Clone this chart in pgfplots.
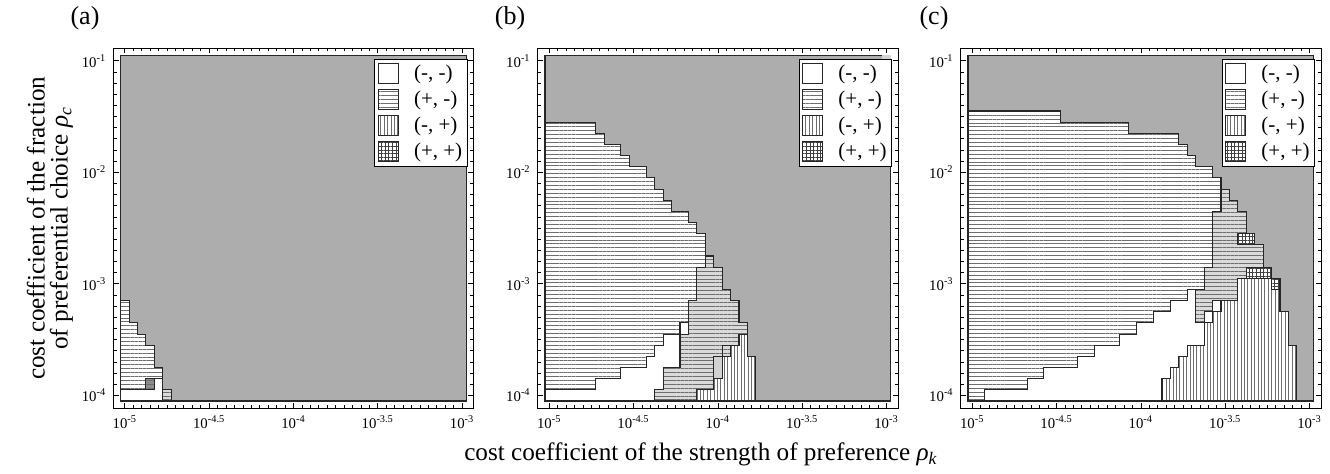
\documentclass[border=0pt]{standalone}
\usepackage{fontspec}
\setmainfont{Liberation Serif}
\usepackage{pgfplots}
\pgfplotsset{compat=1.18}
\usetikzlibrary{patterns.meta}
\definecolor{bggray}{RGB}{173,173,173}
\definecolor{lightbg}{RGB}{218,218,218}
\definecolor{plaincell}{RGB}{210,210,210}
\definecolor{darkcell}{RGB}{140,140,140}
\definecolor{hatch}{RGB}{110,110,110}

\tikzset{
  hpat/.style={postaction={pattern={Lines[angle=0,distance=1.95pt,line width=0.4pt]},pattern color=hatch}},
  vpat/.style={postaction={pattern={Lines[angle=90,distance=1.7pt,line width=0.4pt]},pattern color=hatch}},
  gpat/.style={postaction={pattern={Lines[angle=0,distance=1.8pt,line width=0.35pt]},pattern color=black!75},
               postaction={pattern={Lines[angle=90,distance=1.8pt,line width=0.35pt]},pattern color=black!75}},
  reg/.style={draw=black!85,line width=0.55pt},
  bgR/.style={reg,fill=bggray},
  wR/.style={reg,fill=white},
  hR/.style={reg,fill=white,hpat},
  vR/.style={reg,fill=white,vpat},
  gR/.style={reg,fill=white,gpat},
  lhR/.style={reg,fill=lightbg,hpat},
  dhR/.style={reg,fill=darkcell,hpat},
  pR/.style={reg,fill=plaincell},
}

\pgfplotsset{
  panel/.style={
    scale only axis, width=180.2pt, height=180pt, anchor=south west,
    xmin=-0.87, xmax=41.87, ymin=-0.65, ymax=31.62,
    axis line style={line width=0.5pt},
    tick align=inside, tick pos=both,
    xtick={0.5,10.5,20.5,30.5,40.5},
    xticklabels={10\textsuperscript{-5},10\textsuperscript{-4.5},10\textsuperscript{-4},10\textsuperscript{-3.5},10\textsuperscript{-3}},
    ytick={0.5,10.5,20.5,30.5},
    yticklabels={10\textsuperscript{-4},10\textsuperscript{-3},10\textsuperscript{-2},10\textsuperscript{-1}},
    minor xtick={0.5,1.5,...,40.5},
    minor ytick={0.5,1.5,...,30.5},
    major tick length=2.6pt, minor tick length=1.6pt,
    every tick/.style={black,line width=0.4pt},
    ticklabel style={font=\fontsize{7.4}{8}\selectfont},
    legend image code/.code={\draw[##1] (0pt,-5pt) rectangle (10pt,5pt);},
    legend cell align=left,
    legend style={at={(axis cs:30.1,30.7)}, anchor=north west, draw=black,
      line width=0.5pt, font=\fontsize{10.5}{12}\selectfont,
      inner xsep=1.5pt, inner ysep=2pt, row sep=2.2pt, column sep=6.5pt,
      nodes={inner sep=1pt}},
  },
}

\begin{document}
\begin{tikzpicture}
\useasboundingbox (0,0) rectangle (665pt,237pt);

% ---------------- (a)
\begin{axis}[panel, at={(56.65pt,32.85pt)}]
\addlegendimage{reg,fill=white}
\addlegendimage{hR}
\addlegendimage{vR}
\addlegendimage{gR}
\legend{{(-, -)},{(+, -)},{(-, +)},{(+, +)}}
\addplot[bgR] coordinates {(0,0) (41,0) (41,31) (0,31)} -- cycle;
\addplot[wR] coordinates {(0,0) (5,0) (5,2) (4,2) (4,1) (0,1)} -- cycle;
\addplot[hR] coordinates {(0,1) (0,9) (1,9) (1,7) (2,7) (2,6) (3,6) (3,5) (4,5) (4,3) (5,3) (5,2) (3,2) (3,1)} -- cycle;
\addplot[dhR] coordinates {(3,1) (4,1) (4,2) (3,2)} -- cycle;
\addplot[lhR] coordinates {(5,0) (6,0) (6,1) (5,1)} -- cycle;
\end{axis}

% ---------------- (b)
\begin{axis}[panel, at={(268.85pt,32.85pt)}]
\addlegendimage{reg,fill=white}
\addlegendimage{hR}
\addlegendimage{vR}
\addlegendimage{gR}
\legend{{(-, -)},{(+, -)},{(-, +)},{(+, +)}}
\addplot[bgR] coordinates {(0,0) (41,0) (41,31) (0,31)} -- cycle;
\addplot[hR] coordinates {(0,1) (0,25) (6,25) (6,24) (7,24) (7,23) (9,23) (9,22) (10,22) (10,21) (12,21) (12,20) (13,20) (13,19) (14,19) (14,18) (15,18) (15,17) (17,17) (17,16) (18,16) (18,15) (19,15) (19,12) (18,12) (18,9) (17,9) (17,7) (16,7) (16,6) (14,6) (14,5) (13,5) (13,4) (12,4) (12,3) (9,3) (9,2) (6,2) (6,1)} -- cycle;
\addplot[wR] coordinates {(0,0) (13,0) (13,1) (14,1) (14,3) (16,3) (16,6) (14,6) (14,5) (13,5) (13,4) (12,4) (12,3) (9,3) (9,2) (6,2) (6,1) (0,1)} -- cycle;
\addplot[wR] coordinates {(16,6) (17,6) (17,7) (16,7)} -- cycle;
\addplot[lhR] coordinates {(13,0) (18,0) (18,1) (20,1) (20,4) (22,4) (22,5) (23,5) (23,6) (24,6) (24,7) (23,7) (23,9) (22,9) (22,10) (21,10) (21,12) (20,12) (20,13) (19,13) (19,12) (18,12) (18,9) (17,9) (17,6) (16,6) (16,3) (14,3) (14,1) (13,1)} -- cycle;
\addplot[lhR] coordinates {(21,4) (22,4) (22,5) (21,5)} -- cycle;
\addplot[pR] coordinates {(20,2) (21,2) (21,4) (20,4)} -- cycle;
\addplot[vR] coordinates {(18,0) (25,0) (25,4) (24,4) (24,6) (23,6) (23,5) (22,5) (22,4) (21,4) (21,2) (20,2) (20,1) (18,1)} -- cycle;
\addplot[fill=plaincell,draw=none] coordinates {(40,30) (41,30) (41,31) (40,31)} -- cycle;
\end{axis}

% ---------------- (c)
\begin{axis}[panel, at={(480.35pt,32.85pt)}]
\addlegendimage{reg,fill=white}
\addlegendimage{hR}
\addlegendimage{vR}
\addlegendimage{gR}
\legend{{(-, -)},{(+, -)},{(-, +)},{(+, +)}}
\addplot[bgR] coordinates {(0,0) (41,0) (41,31) (0,31)} -- cycle;
\addplot[hR] coordinates {(0,0) (0,26) (11,26) (11,25) (19,25) (19,24) (25,24) (25,23) (26,23) (26,22) (27,22) (27,21) (29,21) (29,20) (30,20) (30,17) (29,17) (29,12) (28,12) (28,10) (26,10) (26,9) (24,9) (24,8) (22,8) (22,7) (20,7) (20,6) (18,6) (18,5) (15,5) (15,4) (13,4) (13,3) (9,3) (9,2) (7,2) (7,1) (2,1) (2,0)} -- cycle;
\addplot[wR] coordinates {(2,0) (23,0) (23,2) (24,2) (24,3) (25,3) (25,4) (26,4) (26,5) (28,5) (28,7) (27,7) (27,10) (26,10) (26,9) (24,9) (24,8) (22,8) (22,7) (20,7) (20,6) (18,6) (18,5) (15,5) (15,4) (13,4) (13,3) (9,3) (9,2) (7,2) (7,1) (2,1)} -- cycle;
\addplot[wR] coordinates {(28,7) (29,7) (29,8) (28,8)} -- cycle;
\addplot[wR] coordinates {(29,8) (30,8) (30,9) (29,9)} -- cycle;
\addplot[lhR] coordinates {(27,7) (28,7) (28,8) (29,8) (29,9) (32,9) (32,11) (33,11) (33,12) (35,12) (35,14) (33,14) (33,17) (32,17) (32,18) (31,18) (31,19) (30,19) (30,17) (29,17) (29,12) (28,12) (28,10) (27,10)} -- cycle;
\addplot[vR] coordinates {(23,0) (39,0) (39,5) (38,5) (38,8) (37,8) (37,10) (36,10) (36,11) (32,11) (32,9) (30,9) (30,8) (29,8) (29,7) (28,7) (28,5) (26,5) (26,4) (25,4) (25,3) (24,3) (24,2) (23,2)} -- cycle;
\addplot[gR] coordinates {(32,14) (34,14) (34,15) (32,15)} -- cycle;
\addplot[gR] coordinates {(33,11) (36,11) (36,12) (33,12)} -- cycle;
\addplot[gR] coordinates {(36,10) (37,10) (37,11) (36,11)} -- cycle;
\end{axis}

% labels
\node[font=\fontsize{13}{15}\selectfont] at (42.5pt,228pt) {(a)};
\node[font=\fontsize{13}{15}\selectfont] at (255pt,228pt) {(b)};
\node[font=\fontsize{13}{15}\selectfont] at (467pt,228pt) {(c)};
\node[font=\fontsize{12.6}{14}\selectfont, anchor=base] at (350.5pt,6.65pt)
  {cost coefficient of the strength of preference \textit{ρ}\textsubscript{\textit{k}}};
\node[rotate=90, align=center, font=\fontsize{12.6}{11.5}\selectfont] at (25pt,122.85pt)
  {cost coefficient of the fraction\\of preferential choice \textit{ρ}\textsubscript{\textit{c}}};
\end{tikzpicture}
\end{document}
